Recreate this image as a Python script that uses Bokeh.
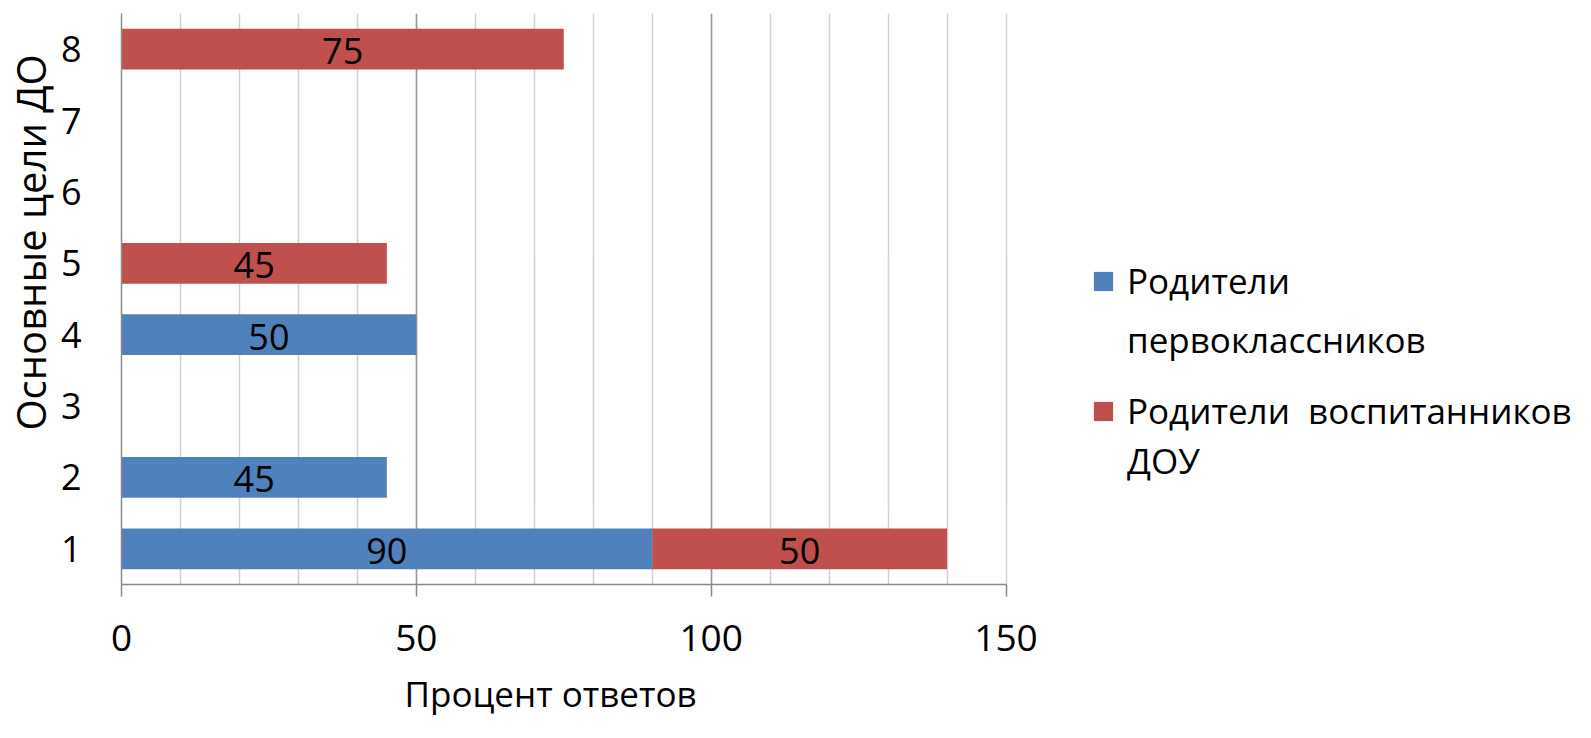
from bokeh.plotting import figure
from bokeh.models import (ColumnDataSource, FixedTicker, Grid, Legend, LegendItem, Title)
from bokeh.core.properties import value
from bokeh.embed import file_html
from bokeh.resources import INLINE

# ---- data ----
categories = [1, 2, 3, 4, 5, 6, 7, 8]
series_1_lines = ["Родители", "первоклассников"]
series_2_lines = ["Родители  воспитанников", "ДОУ"]
parents_first_grade = [90, 45, 0, 50, 0, 0, 0, 0]
parents_preschool = [50, 0, 0, 0, 45, 0, 0, 75]
x_ticks = [0, 50, 100, 150]
x_title = "Процент ответов"
y_title = "Основные цели ДО"

BLUE = "#4F81BD"
RED = "#C0504D"
FONT = "Open Sans"

# build stacked segments
blue_y, blue_l, blue_r = [], [], []
red_y, red_l, red_r = [], [], []
for c, b, r in zip(categories, parents_first_grade, parents_preschool):
    if b:
        blue_y.append(c); blue_l.append(0); blue_r.append(b)
    if r:
        red_y.append(c); red_l.append(b); red_r.append(b + r)


def seg_source(ys, ls, rs):
    return ColumnDataSource(dict(y=ys, left=ls, right=rs,
                                 mid=[(a + b) / 2 for a, b in zip(ls, rs)],
                                 txt=[str(b - a) for a, b in zip(ls, rs)]))


blue_src = seg_source(blue_y, blue_l, blue_r)
red_src = seg_source(red_y, red_l, red_r)

# layout: the axis part of the frame is 890 px wide for 0..150; the frame
# continues to the right edge to hold the legend
W, H = 1575, 730
LEFT = 112
AXIS_PX = 890
x_max = x_ticks[-1] * (W - LEFT) / AXIS_PX

p = figure(width=W, height=H, x_range=(0, x_max), y_range=(0.5, 8.5),
           output_backend="svg", toolbar_location=None,
           min_border_left=LEFT, min_border_right=0,
           min_border_top=13, min_border_bottom=145)
p.outline_line_color = None
p.background_fill_color = "white"
p.border_fill_color = "white"

p.xgrid.visible = False
p.ygrid.visible = False
p.add_layout(Grid(dimension=0, ticker=FixedTicker(ticks=list(range(10, 151, 10))),
                  grid_line_color="#D0D0D0", grid_line_width=1.5))
p.add_layout(Grid(dimension=0, ticker=FixedTicker(ticks=[50, 100]),
                  grid_line_color="#9A9A9A", grid_line_width=1.5))

r_blue = p.hbar(y="y", left="left", right="right", height=0.57, source=blue_src,
                fill_color=BLUE, line_color=None)
r_red = p.hbar(y="y", left="left", right="right", height=0.57, source=red_src,
               fill_color=RED, line_color=None)
# transparent renderer used for the continuation line of wrapped legend labels
r_none = p.hbar(y=[], left=[], right=[], height=0.57, fill_alpha=0, line_alpha=0)

for src in (blue_src, red_src):
    p.text(x="mid", y="y", text="txt", source=src, text_align="center",
           text_baseline="middle", text_font=value(FONT), text_font_size="36px",
           text_color="black", y_offset=2)

# x axis
xa = p.xaxis[0]
xa.ticker = FixedTicker(ticks=x_ticks)
xa.bounds = (x_ticks[0], x_ticks[-1])
xa.minor_tick_line_color = None
xa.major_tick_in = 0
xa.major_tick_out = 12
xa.major_tick_line_color = "#8A8A8A"
xa.major_tick_line_width = 1.5
xa.axis_line_color = "#8A8A8A"
xa.axis_line_width = 1.5
xa.major_label_text_font = FONT
xa.major_label_text_font_size = "37px"
xa.major_label_text_color = "black"
xa.major_label_standoff = 28

# y axis
ya = p.yaxis[0]
ya.ticker = FixedTicker(ticks=categories)
ya.minor_tick_line_color = None
ya.major_tick_line_color = None
ya.axis_line_color = "#8A8A8A"
ya.axis_line_width = 1.5
ya.major_label_text_font = FONT
ya.major_label_text_font_size = "36px"
ya.major_label_text_color = "black"
ya.major_label_standoff = 34

# titles
p.add_layout(Title(text=x_title, align="left", offset=283, text_font=FONT,
                   text_font_size="35px", text_font_style="normal",
                   text_line_height=1.0,
                   text_color="black", standoff=28), "below")
p.add_layout(Title(text=y_title, align="left", offset=154, text_font=FONT,
                   text_font_size="40px", text_font_style="normal",
                   text_color="black", standoff=0), "left")

common = dict(orientation="vertical", label_text_font=FONT, label_text_font_size="35px",
              label_text_color="black", glyph_width=24, glyph_height=24,
              label_standoff=12, label_height=46, padding=0, margin=0,
              border_line_color=None, background_fill_alpha=0)
legend1 = Legend(items=[LegendItem(label=series_1_lines[0], renderers=[r_blue]),
                        LegendItem(label=series_1_lines[1], renderers=[r_none])],
                 location=(970, 221), spacing=12, **common)
legend2 = Legend(items=[LegendItem(label=series_2_lines[0], renderers=[r_red]),
                        LegendItem(label=series_2_lines[1], renderers=[r_none])],
                 location=(970, 100), spacing=3, **common)
p.add_layout(legend1)
p.add_layout(legend2)

open("out.html", "w").write(file_html(p, INLINE))
